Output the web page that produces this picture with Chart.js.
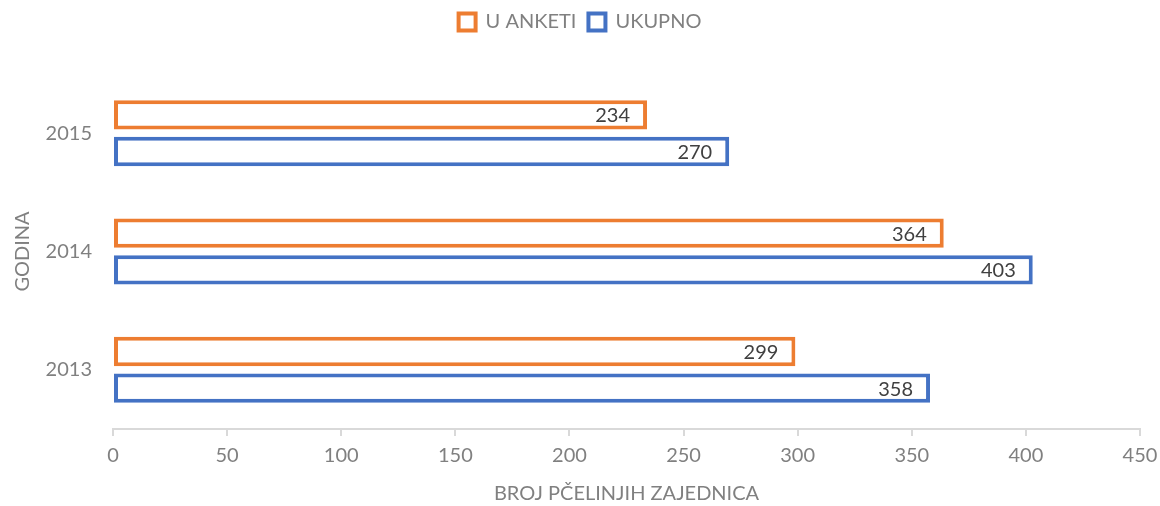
<!DOCTYPE html>
<html>
<head>
<meta charset="utf-8">
<script src="https://cdn.jsdelivr.net/npm/chart.js@4"></script>
<style>
  html, body { margin: 0; padding: 0; background: #fff; }
  #wrap { width: 1160px; height: 506px; }
</style>
</head>
<body>
<div id="wrap"><canvas id="chart"></canvas></div>
<script>
const years = ['2015', '2014', '2013'];
const anketiValues = [234, 364, 299];
const ukupnoValues = [270, 403, 358];
const xTicks = [0, 50, 100, 150, 200, 250, 300, 350, 400, 450];

const FONT = 'Lato, "Open Sans", sans-serif';
const ORANGE = '#ED7D31';
const BLUE = '#4472C4';

// draws the value inside the end of each bar
const valueLabels = {
    id: 'valueLabels',
    afterDatasetsDraw(chart) {
        const ctx = chart.ctx;
        ctx.save();
        ctx.font = '20px ' + FONT;
        ctx.fillStyle = '#404040';
        ctx.textAlign = 'right';
        ctx.textBaseline = 'middle';
        chart.data.datasets.forEach((ds, i) => {
            chart.getDatasetMeta(i).data.forEach((bar, j) => {
                ctx.fillText(ds.data[j], bar.x - 17, bar.y + 1);
            });
        });
        ctx.restore();
    }
};

// leave more room under the legend
const legendSpace = {
    id: 'legendSpace',
    beforeInit(chart) {
        const fit = chart.legend.fit;
        chart.legend.fit = function() {
            fit.call(this);
            this.height += 32;
        };
    }
};

new Chart(document.getElementById('chart'), {
    type: 'bar',
    data: {
        labels: years,
        datasets: [
            {
                label: 'U ANKETI',
                data: anketiValues,
                backgroundColor: '#ffffff',
                borderColor: ORANGE,
                borderWidth: 4,
                borderSkipped: false
            },
            {
                label: 'UKUPNO',
                data: ukupnoValues,
                backgroundColor: '#ffffff',
                borderColor: BLUE,
                borderWidth: 4,
                borderSkipped: false
            }
        ]
    },
    options: {
        indexAxis: 'y',
        responsive: true,
        maintainAspectRatio: false,
        animation: false,
        categoryPercentage: 0.62,
        barPercentage: 0.8,
        layout: { padding: { left: 0, right: 0, top: 0, bottom: 0 } },
        plugins: {
            legend: {
                position: 'top',
                labels: {
                    font: { family: FONT, size: 20 },
                    color: '#808080',
                    boxWidth: 17,
                    boxHeight: 17,
                    padding: 12
                }
            },
            tooltip: { enabled: false }
        },
        scales: {
            x: {
                min: 0,
                max: 450,
                afterBuildTicks: axis => { axis.ticks = xTicks.map(v => ({ value: v })); },
                afterFit: axis => {
                    axis.height = 77;
                    axis.paddingRight = 20;
                },
                grid: {
                    drawOnChartArea: false,
                    color: '#d9d9d9',
                    tickLength: 7,
                    lineWidth: 2
                },
                border: { color: '#d9d9d9', width: 2 },
                ticks: {
                    font: { family: FONT, size: 20 },
                    color: '#808080',
                    padding: 8
                },
                title: {
                    display: true,
                    text: 'BROJ PČELINJIH ZAJEDNICA',
                    font: { family: FONT, size: 20 },
                    color: '#808080',
                    padding: { top: 0, bottom: 0 }
                }
            },
            y: {
                afterFit: axis => { axis.width = 113; },
                grid: { display: false },
                border: { display: false },
                ticks: {
                    font: { family: FONT, size: 20 },
                    color: '#808080',
                    padding: 13
                },
                title: {
                    display: true,
                    text: 'GODINA',
                    font: { family: FONT, size: 20 },
                    color: '#808080',
                    padding: { top: 11, bottom: 0 }
                }
            }
        }
    },
    plugins: [valueLabels, legendSpace]
});
</script>
</body>
</html>
